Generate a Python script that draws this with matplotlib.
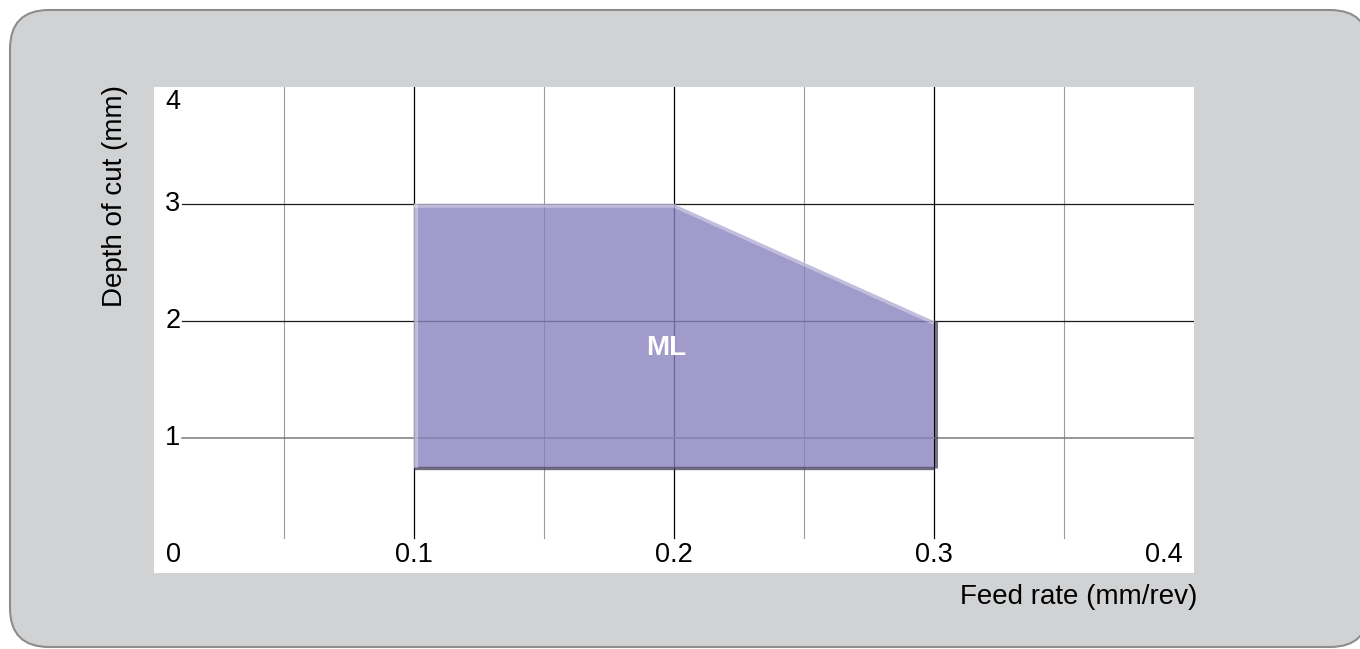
import matplotlib.pyplot as plt
from matplotlib.patches import FancyBboxPatch, Polygon
from matplotlib.transforms import IdentityTransform, ScaledTranslation

plt.rcParams['font.family'] = ['Liberation Sans', 'DejaVu Sans']

# data
feed = [0.1, 0.2, 0.3, 0.3, 0.1]
depth = [3, 3, 2, 0.75, 0.75]
region_label = "ML"
x_ticks = [0, 0.1, 0.2, 0.3, 0.4]
x_tick_labels = ["0", "0.1", "0.2", "0.3", "0.4"]
y_ticks = [1, 2, 3, 4]
y_tick_labels = ["1", "2", "3", "4"]
x_major = [0.1, 0.2, 0.3]
x_minor = [0.05, 0.15, 0.25, 0.35]

fig = plt.figure(figsize=(13.6, 6.49), dpi=100)
fig.patch.set_facecolor('white')

# gray rounded panel behind everything (pixel coords)
panel = FancyBboxPatch((10, 2), 1359, 637, boxstyle="round,pad=0,rounding_size=39",
                       transform=IdentityTransform(), facecolor='#d1d2d4',
                       edgecolor='#8d8d8d', linewidth=1.5, zorder=-5)
fig.patches.append(panel)

ax = fig.add_axes([154 / 1360, 76 / 649, 1040 / 1360, 486 / 649])
ax.set_zorder(2)
ax.set_facecolor('white')
ax.set_xlim(0, 0.4)
ax.set_ylim(-0.15, 4)
for s in ax.spines.values():
    s.set_visible(False)
ax.set_xticks([])
ax.set_yticks([])

# grid
for x in x_minor:
    ax.plot([x, x], [0.15, 4], color='#9a9a9a', lw=0.8, zorder=1)
for x in x_major:
    ax.plot([x, x], [0.15, 4], color='black', lw=0.9, zorder=1)
for y in [2, 3]:
    ax.plot([0.0108, 0.4], [y, y], color='#1a1a1a', lw=0.9, zorder=1)
ax.plot([0.0108, 0.4], [1, 1], color='#7a7a7a', lw=1.1, zorder=1)

# region
ax.add_patch(Polygon(list(zip(feed, depth)), closed=True, facecolor='#8982bd',
                     alpha=0.8, edgecolor='none', zorder=2))

dpi = fig.dpi
def shift(dx, dy):
    return ax.transData + ScaledTranslation(dx / dpi, dy / dpi, fig.dpi_scale_trans)

# dark bevel on bottom and right
ax.plot([feed[4], feed[3]], [depth[4], depth[3]], color='#4a4760', lw=2.4, alpha=0.8,
        solid_capstyle='butt', transform=shift(0, -0.5), zorder=3)
ax.plot([feed[2], feed[3]], [depth[2], depth[3]], color='#4a4760', lw=2.2, alpha=0.75,
        solid_capstyle='butt', transform=shift(1.5, 0), zorder=3)
# light bevel on top and left
ax.plot(feed[:3], depth[:3], color='white', lw=3, alpha=0.35,
        solid_capstyle='butt', transform=shift(0, -1.5), zorder=3)
ax.plot([feed[0], feed[4]], [depth[0], depth[4]], color='white', lw=3, alpha=0.35,
        solid_capstyle='butt', transform=shift(1.5, 0), zorder=3)

ax.text(0.197, 1.77, region_label, color='white', fontsize=20, fontweight='bold',
        ha='center', va='center', zorder=4)

# tick labels inside plot
fs = 19.5
for x, lab in zip(x_ticks, x_tick_labels):
    ha = 'center'
    xp = x
    if x == x_ticks[0]:
        ha, xp = 'left', 0.0046
    elif x == x_ticks[-1]:
        ha, xp = 'right', 0.3958
    ax.text(xp, 0.0, lab, fontsize=fs, ha=ha, va='center', zorder=4)
for y, lab in zip(y_ticks, y_tick_labels):
    yp = y
    va = 'center'
    if y == y_ticks[-1]:
        yp, va = 3.98, 'top'
    ax.text(0.0073, yp, lab, fontsize=fs, ha='center', va=va, zorder=4)

fig.text(115 / 1360, 1 - 196 / 649, "Depth of cut (mm)", rotation=90, fontsize=20,
         ha='center', va='center')
fig.text(1197 / 1360, 1 - 597 / 649, "Feed rate (mm/rev)", fontsize=20,
         ha='right', va='center')

fig.savefig('out.png', dpi=100)
